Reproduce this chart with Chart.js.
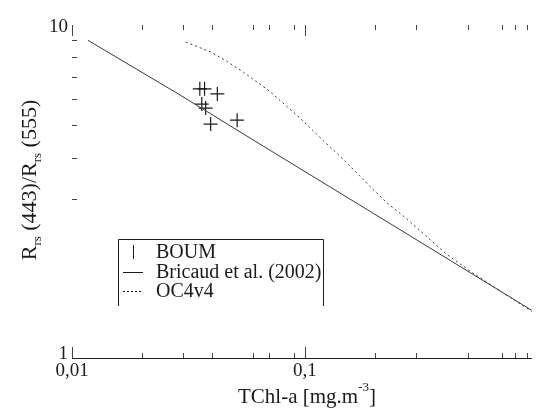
<!DOCTYPE html>
<html>
<head>
<meta charset="utf-8">
<script src="https://cdn.jsdelivr.net/npm/chart.js@4"></script>
<style>
  html, body { margin: 0; padding: 0; background: #fff; }
  #wrap { width: 540px; height: 413px; }
  .probe { position: absolute; left: -999px; top: 0; font-family: "Liberation Serif", "Times New Roman", Times, serif; font-size: 19px; }
</style>
</head>
<body>
<span class="probe">BOUM 0,01</span>
<div id="wrap"><canvas id="ratioChart" width="540" height="413"></canvas></div>
<script>
// values
const boumChl = [0.0354, 0.0371, 0.0421, 0.0361, 0.0375, 0.0394, 0.0512];
const boumRatio = [6.43, 6.43, 6.21, 5.79, 5.63, 5.04, 5.18];

const bricaudChl = [0.0117, 0.0286, 0.0684, 0.242, 0.944];
const bricaudRatio = [9.0, 6.21, 4.27, 2.49, 1.39];

const oc4Chl = [0.0308, 0.0394, 0.0460, 0.0547, 0.0705, 0.0944, 0.120, 0.149, 0.190, 0.226, 0.270, 0.315, 0.406, 0.527, 0.70, 0.944];
const oc4Ratio = [8.89, 8.30, 7.80, 7.20, 6.33, 5.29, 4.50, 3.90, 3.28, 2.92, 2.64, 2.40, 2.05, 1.80, 1.58, 1.38];

const xTicks = [0.01, 0.02, 0.03, 0.04, 0.06, 0.07, 0.09, 0.1, 0.2, 0.3, 0.5, 0.7, 0.8, 0.9];
const xMajor = [0.01, 0.1];
const xLabels = ["0,01", "0,1"];
const yTicks = [3, 4, 5, 6, 7, 8, 9];
const yMajor = [1, 10];
const yLabels = ["1", "10"];

const legendNames = ["BOUM", "Bricaud et al. (2002)", "OC4v4"];

const FONT = '"Liberation Serif", "Times New Roman", Times, serif';
const INK = "#1a1a1a";

function pts(xs, ys) {
  return xs.map((v, i) => ({ x: v, y: ys[i] }));
}

const decor = {
  id: "decor",
  afterDraw(chart) {
    const { ctx, chartArea: a, scales: { x, y } } = chart;
    ctx.save();
    ctx.strokeStyle = INK;
    ctx.lineWidth = 1;

    // bottom axis line
    ctx.beginPath();
    ctx.moveTo(a.left, a.bottom + 0.5);
    ctx.lineTo(a.right, a.bottom + 0.5);
    ctx.stroke();

    // inward ticks, bottom and top
    ctx.strokeStyle = "#444";
    xTicks.forEach(v => {
      const px = Math.round(x.getPixelForValue(v)) + 0.5;
      const len = xMajor.includes(v) ? 11 : 5;
      ctx.beginPath();
      ctx.moveTo(px, a.bottom);
      ctx.lineTo(px, a.bottom - len);
      ctx.moveTo(px, a.top);
      ctx.lineTo(px, a.top + len);
      ctx.stroke();
    });

    // left minor ticks
    yTicks.forEach(v => {
      const py = Math.round(y.getPixelForValue(v)) + 0.5;
      ctx.beginPath();
      ctx.moveTo(a.left, py);
      ctx.lineTo(a.left + 5, py);
      ctx.stroke();
    });

    // tick labels
    ctx.fillStyle = INK;
    ctx.font = "19px " + FONT;
    ctx.textAlign = "center";
    ctx.textBaseline = "top";
    xMajor.forEach((v, i) => {
      ctx.fillText(xLabels[i], x.getPixelForValue(v), a.bottom + 4);
    });
    ctx.textAlign = "right";
    ctx.textBaseline = "middle";
    yMajor.forEach((v, i) => {
      const py = y.getPixelForValue(v);
      ctx.fillText(yLabels[i], a.left - 4, v === 1 ? py - 4 : py + 2);
    });

    // x title with superscript
    ctx.textAlign = "left";
    ctx.textBaseline = "alphabetic";
    const big = "21px " + FONT, small = "13px " + FONT;
    const parts = [["TChl-a [mg.m", big, 0], ["-3", small, -12], ["]", big, 0]];
    let w = 0;
    parts.forEach(p => { ctx.font = p[1]; w += ctx.measureText(p[0]).width; });
    let cx = 307 - w / 2;
    parts.forEach(p => {
      ctx.font = p[1];
      ctx.fillText(p[0], cx, 403 + p[2]);
      cx += ctx.measureText(p[0]).width;
    });

    // y title, rotated, with subscripts
    const ybig = "22px " + FONT;
    const yparts = [["R", ybig, 0], ["rs", small, 5], [" (443)/R", ybig, 0], ["rs", small, 5], [" (555)", ybig, 0]];
    w = 0;
    yparts.forEach(p => { ctx.font = p[1]; w += ctx.measureText(p[0]).width; });
    ctx.translate(36, 180);
    ctx.rotate(-Math.PI / 2);
    cx = -w / 2;
    yparts.forEach(p => {
      ctx.font = p[1];
      ctx.fillText(p[0], cx, p[2]);
      cx += ctx.measureText(p[0]).width;
    });
    ctx.setTransform(1, 0, 0, 1, 0, 0);

    // legend box, open at the bottom
    const lx0 = 118.5, lx1 = 323.5, ly0 = 239.5, ly1 = 306;
    ctx.strokeStyle = INK;
    ctx.beginPath();
    ctx.moveTo(lx0, ly1);
    ctx.lineTo(lx0, ly0);
    ctx.lineTo(lx1, ly0);
    ctx.lineTo(lx1, ly1);
    ctx.stroke();

    const rows = [258, 278, 297];
    ctx.font = "20px " + FONT;
    ctx.fillStyle = INK;
    legendNames.forEach((name, i) => {
      ctx.fillText(name, 156, rows[i]);
    });
    ctx.lineWidth = 1;
    ctx.beginPath();
    ctx.moveTo(133.5, 245);
    ctx.lineTo(133.5, 259);
    ctx.stroke();
    ctx.beginPath();
    ctx.moveTo(123, 272.5);
    ctx.lineTo(143, 272.5);
    ctx.stroke();
    ctx.setLineDash([2, 2]);
    ctx.beginPath();
    ctx.moveTo(123, 291.5);
    ctx.lineTo(143, 291.5);
    ctx.stroke();
    ctx.restore();
  }
};

function draw() {
  new Chart(document.getElementById("ratioChart").getContext("2d"), {
    type: "line",
    data: {
      datasets: [
        {
          label: legendNames[1],
          data: pts(bricaudChl, bricaudRatio),
          borderColor: "#3a3a3a",
          borderWidth: 1,
          pointRadius: 0,
          tension: 0,
          fill: false
        },
        {
          label: legendNames[2],
          data: pts(oc4Chl, oc4Ratio),
          borderColor: "#3a3a3a",
          borderWidth: 1,
          borderDash: [2, 3],
          pointRadius: 0,
          tension: 0,
          fill: false
        },
        {
          label: legendNames[0],
          data: pts(boumChl, boumRatio),
          showLine: false,
          pointStyle: "cross",
          pointRadius: 7,
          borderColor: INK,
          borderWidth: 1.2,
          backgroundColor: INK
        }
      ]
    },
    options: {
      responsive: false,
      animation: false,
      layout: { padding: { left: 72, right: 0, top: 25, bottom: 55 } },
      plugins: { legend: { display: false }, tooltip: { enabled: false } },
      scales: {
        x: { type: "logarithmic", min: 0.01, max: 0.944, display: false },
        y: { type: "logarithmic", min: 1, max: 10, display: false }
      }
    },
    plugins: [decor]
  });
}

document.fonts.load('19px "Liberation Serif"').then(draw, draw);
</script>
</body>
</html>
